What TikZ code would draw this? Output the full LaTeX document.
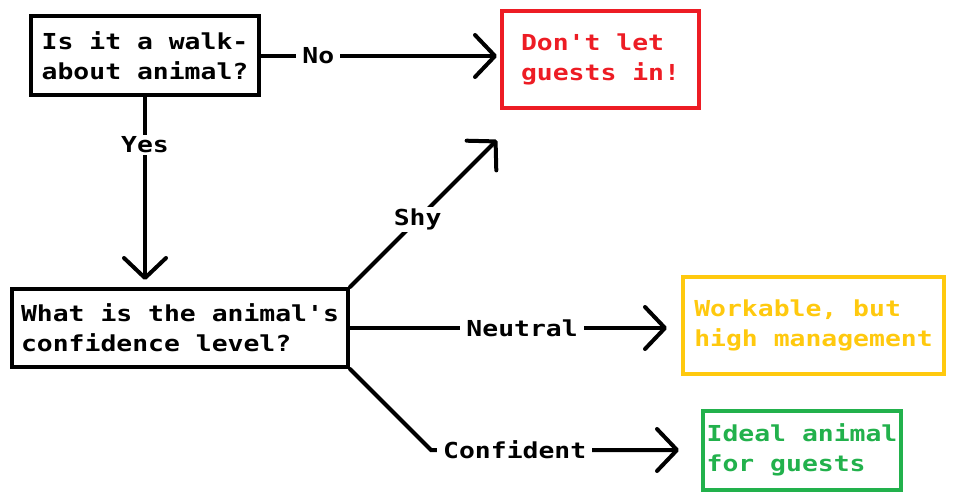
\documentclass[tikz,border=0pt]{standalone}
\usepackage{fontspec}
\newfontfamily\pixfont[FakeStretch=1.2]{DejaVu Sans Mono}
\usepackage{tikz}
\usetikzlibrary{arrows.meta,calc,positioning}
\definecolor{stopred}{HTML}{ED1C24}
\definecolor{warnyel}{HTML}{FFC90E}
\definecolor{okgreen}{HTML}{22B14C}

\begin{document}
\begin{tikzpicture}[x=1pt,y=1pt,line width=4pt,font=\pixfont\bfseries\fontsize{22}{30}\selectfont,
  box/.style={draw,rectangle,align=left,inner sep=0pt},
  lbl/.style={fill=white,inner xsep=6pt,inner ysep=2pt},
  arr/.style={-{Straight Barb[length=20pt,width=42pt,round]},line cap=round}]
\useasboundingbox (0,0) rectangle (960,-500);
\node[box,minimum width=228,minimum height=79] (q1) at (145,-56) {Is it a walk-\\about animal?};
\node[box,draw=stopred,text=stopred,minimum width=197,minimum height=97] (red) at (600.5,-59.5) {Don't let\\guests in!};
\node[box,minimum width=336,minimum height=78] (q2) at (180,-328) {What is the animal's\\confidence level?};
\node[box,draw=warnyel,text=warnyel,minimum width=261,minimum height=97] (yel) at (813.5,-325.5) {Workable, but\\high management};
\node[box,draw=okgreen,text=okgreen,minimum width=198,minimum height=79] (grn) at (802,-450) {Ideal animal\\for guests};
\coordinate (shyend) at (497,-140);
\draw[arr,shorten >=3pt] (q1.east) -- node[lbl,pos=0.24]{No} (q1.east -| red.west);
\draw[arr,shorten >=7pt] (q1.south) -- node[lbl,pos=0.25]{Yes} (q1.south |- q2.north);
\draw[arr] (q2.north east) -- node[lbl,pos=0.46]{Shy} (shyend);
\draw[arr,shorten >=14pt] (q2.east) -- node[lbl,pos=0.52]{Neutral} (q2.east -| yel.west);
\draw[arr,shorten >=22pt] (q2.south east) -- ++(81,-81) -- node[lbl,pos=0.31]{Confident} (grn.west);
\end{tikzpicture}
\end{document}
